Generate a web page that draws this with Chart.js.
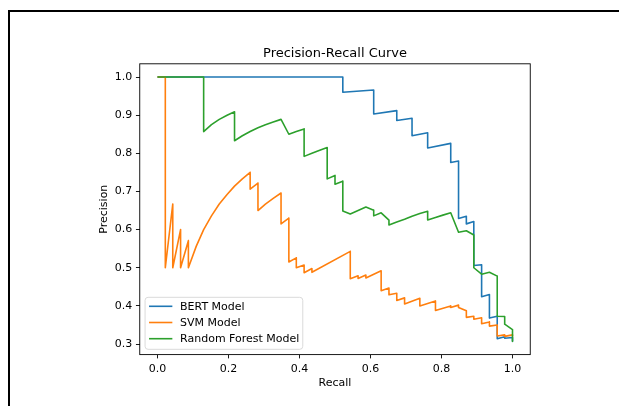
<!DOCTYPE html>
<html>
<head>
<meta charset="utf-8">
<title>Precision-Recall Curve</title>
<script src="https://cdn.jsdelivr.net/npm/chart.js@4.4.1/dist/chart.umd.min.js"></script>
<style>
  html, body { margin: 0; padding: 0; background: #fff; }
  #wrap { position: relative; width: 619px; height: 406px; overflow: hidden; }
  #frame { position: absolute; left: 8px; top: 10px; width: 700px; height: 500px;
           border-left: 2px solid #000; border-top: 2px solid #000; }
  #chart { position: absolute; left: 0; top: 0; }
</style>
</head>
<body>
<div id="wrap">
  <div id="frame"></div>
  <canvas id="chart" width="619" height="406"></canvas>
</div>
<script>
// values
const chartTitle = 'Precision-Recall Curve';
const seriesNames = ['BERT Model', 'SVM Model', 'Random Forest Model'];

const bertRecall = [0, 0.522, 0.522, 0.609, 0.609, 0.674, 0.674, 0.717, 0.717, 0.761, 0.761,
  0.826, 0.826, 0.848, 0.848, 0.870, 0.870, 0.891, 0.891, 0.913, 0.913, 0.935, 0.935,
  0.957, 0.957, 0.978, 0.978, 1.0, 1.0];
const bertPrecision = [1.0, 1.0, 0.960, 0.966, 0.903, 0.912, 0.886, 0.892, 0.846, 0.854, 0.814,
  0.826, 0.776, 0.780, 0.629, 0.635, 0.615, 0.621, 0.506, 0.508, 0.424, 0.430, 0.368,
  0.373, 0.314, 0.319, 0.315, 0.317, 0.307];

const svmRecall = [0, 0.022, 0.022, 0.043, 0.043, 0.065, 0.065, 0.087, 0.087, 0.109, 0.130,
  0.152, 0.174, 0.196, 0.217, 0.239, 0.261, 0.261, 0.283, 0.283, 0.304, 0.326, 0.348, 0.348,
  0.370, 0.370, 0.391, 0.391, 0.413, 0.413, 0.435, 0.435, 0.543, 0.543, 0.565, 0.565,
  0.587, 0.587, 0.630, 0.630, 0.652, 0.652, 0.674, 0.674, 0.696, 0.696, 0.739, 0.739,
  0.783, 0.783, 0.826, 0.826, 0.848, 0.848, 0.870, 0.870, 0.891, 0.891, 0.913, 0.913,
  0.935, 0.935, 0.957, 0.957, 0.978, 0.978, 1.0, 1.0];
const svmPrecision = [1.0, 1.0, 0.500, 0.667, 0.500, 0.600, 0.500, 0.571, 0.500, 0.556, 0.600,
  0.636, 0.667, 0.692, 0.714, 0.733, 0.750, 0.706, 0.722, 0.650, 0.667, 0.682, 0.696, 0.615,
  0.630, 0.515, 0.526, 0.500, 0.507, 0.487, 0.498, 0.488, 0.543, 0.471, 0.479, 0.472,
  0.481, 0.473, 0.492, 0.440, 0.447, 0.429, 0.433, 0.414, 0.421, 0.405, 0.420, 0.400,
  0.413, 0.388, 0.400, 0.396, 0.402, 0.396, 0.387, 0.370, 0.373, 0.365, 0.369, 0.353,
  0.358, 0.347, 0.350, 0.321, 0.324, 0.320, 0.324, 0.321];

const rfRecall = [0, 0.130, 0.130, 0.152, 0.174, 0.196, 0.217, 0.217, 0.239, 0.261, 0.283,
  0.304, 0.326, 0.348, 0.370, 0.391, 0.413, 0.413, 0.435, 0.457, 0.478, 0.478, 0.500, 0.500,
  0.522, 0.522, 0.543, 0.565, 0.587, 0.609, 0.609, 0.630, 0.652, 0.652, 0.674, 0.696, 0.717,
  0.739, 0.761, 0.761, 0.783, 0.804, 0.826, 0.848, 0.870, 0.891, 0.891, 0.913, 0.935, 0.957,
  0.957, 0.978, 0.978, 1.0, 1.0];
const rfPrecision = [1.0, 1.0, 0.857, 0.875, 0.889, 0.900, 0.909, 0.833, 0.846, 0.857, 0.867,
  0.875, 0.882, 0.889, 0.850, 0.857, 0.864, 0.792, 0.800, 0.808, 0.815, 0.733, 0.742, 0.719,
  0.727, 0.649, 0.641, 0.650, 0.659, 0.651, 0.636, 0.644, 0.625, 0.612, 0.620, 0.627, 0.635,
  0.642, 0.648, 0.625, 0.632, 0.638, 0.644, 0.593, 0.597, 0.586, 0.500, 0.483, 0.488, 0.478,
  0.373, 0.372, 0.352, 0.338, 0.307];

const xTicks = [0, 0.2, 0.4, 0.6, 0.8, 1.0];
const yTicks = [0.3, 0.4, 0.5, 0.6, 0.7, 0.8, 0.9, 1.0];

const colors = ['#1f77b4', '#ff7f0e', '#2ca02c'];
const toPoints = (xs, ys) => xs.map((x, i) => ({ x: x, y: ys[i] }));

Chart.defaults.font.family = "'DejaVu Sans', sans-serif";
Chart.defaults.color = '#000';

// axes box like matplotlib spines, plus the title centred over the axes
const spines = {
  id: 'spines',
  afterDraw(chart) {
    const { ctx, chartArea: ca } = chart;
    ctx.save();
    ctx.strokeStyle = '#000';
    ctx.lineWidth = 0.9;
    ctx.strokeRect(ca.left, ca.top, ca.right - ca.left, ca.bottom - ca.top);
    ctx.font = "13px 'DejaVu Sans'";
    ctx.fillStyle = '#000';
    ctx.textAlign = 'center';
    ctx.textBaseline = 'alphabetic';
    ctx.fillText(chartTitle, (ca.left + ca.right) / 2, ca.top - 7);
    ctx.restore();
  }
};

// legend box in the lower left corner of the axes
const boxLegend = {
  id: 'boxLegend',
  afterDraw(chart) {
    const { ctx, chartArea: ca } = chart;
    const w = 157.7, h = 52;
    const x = ca.left + 5.3, y = ca.bottom - 5.3 - h;
    ctx.save();
    ctx.beginPath();
    ctx.roundRect(x, y, w, h, 3);
    ctx.fillStyle = 'rgba(255,255,255,0.8)';
    ctx.fill();
    ctx.strokeStyle = '#d6d6d6';
    ctx.lineWidth = 0.9;
    ctx.stroke();
    ctx.font = "11px 'DejaVu Sans'";
    ctx.textBaseline = 'middle';
    ctx.textAlign = 'left';
    seriesNames.forEach((name, i) => {
      const ry = y + 9 + i * 16.2;
      ctx.strokeStyle = colors[i];
      ctx.lineWidth = 1.6;
      ctx.beginPath();
      ctx.moveTo(x + 4, ry);
      ctx.lineTo(x + 27.3, ry);
      ctx.stroke();
      ctx.fillStyle = '#000';
      ctx.fillText(name, x + 35, ry + 0.5);
    });
    ctx.restore();
  }
};

const lineStyle = { showLine: true, pointRadius: 0, borderWidth: 1.6, fill: false,
  tension: 0, borderJoinStyle: 'round' };

new Chart(document.getElementById('chart'), {
  type: 'scatter',
  data: {
    datasets: [
      { label: seriesNames[0], data: toPoints(bertRecall, bertPrecision), borderColor: colors[0], order: 3, ...lineStyle },
      { label: seriesNames[1], data: toPoints(svmRecall, svmPrecision), borderColor: colors[1], order: 2, ...lineStyle },
      { label: seriesNames[2], data: toPoints(rfRecall, rfPrecision), borderColor: colors[2], order: 1, ...lineStyle }
    ]
  },
  options: {
    responsive: false,
    animation: false,
    devicePixelRatio: 1,
    layout: { padding: { left: 0, right: 88.75, top: 63.8, bottom: 0 } },
    plugins: {
      legend: { display: false },
      tooltip: { enabled: false },
      title: { display: false }
    },
    scales: {
      x: {
        type: 'linear',
        min: -0.05,
        max: 1.05,
        afterBuildTicks: s => { s.ticks = xTicks.map(v => ({ value: v })); },
        afterFit: s => { s.height = 51.4; },
        ticks: { autoSkip: false, maxRotation: 0, padding: 3.8, color: '#000',
          font: { size: 11 }, callback: v => v.toFixed(1) },
        grid: { drawOnChartArea: false, drawTicks: true, tickLength: 3.8, color: '#000', lineWidth: 0.9 },
        border: { display: false },
        title: { display: true, text: 'Recall', color: '#000', font: { size: 11 },
          padding: { top: 0, bottom: 16.2 } }
      },
      y: {
        type: 'linear',
        min: 0.2723,
        max: 1.0347,
        afterBuildTicks: s => { s.ticks = yTicks.map(v => ({ value: v })); },
        afterFit: s => { s.width = 139.75; },
        ticks: { autoSkip: false, padding: 3.8, color: '#000',
          font: { size: 11 }, callback: v => v.toFixed(1) },
        grid: { drawOnChartArea: false, drawTicks: true, tickLength: 3.8, color: '#000', lineWidth: 0.9 },
        border: { display: false },
        title: { display: true, text: 'Precision', color: '#000', font: { size: 11 },
          padding: { top: 97.4, bottom: 0 } }
      }
    }
  },
  plugins: [spines, boxLegend]
});
</script>
</body>
</html>
